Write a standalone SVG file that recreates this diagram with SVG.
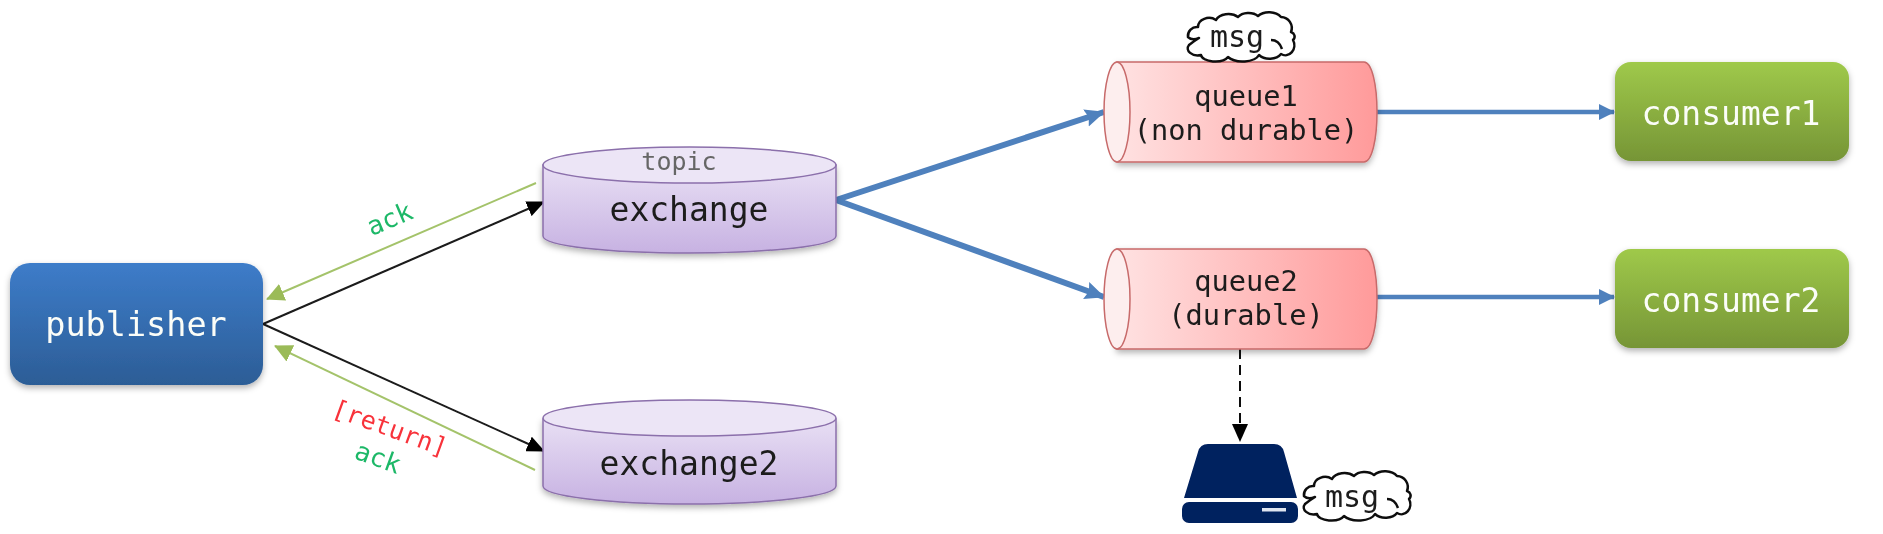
<svg xmlns="http://www.w3.org/2000/svg" xmlns:xlink="http://www.w3.org/1999/xlink" width="1883" height="534" viewBox="0 0 1883 534">
<style>
text{font-family:"DejaVu Sans Mono","Liberation Mono",monospace;text-anchor:middle}
.dark{fill:#1c1c1c}
.white{fill:#fbfdf8}
.cyl{stroke:#8b6fab;stroke-width:1.5}
.q{stroke:#c76a6a;stroke-width:1.5}
.cn{fill:none}
.blue{stroke:#4f81bd;stroke-width:6}
.blue2{stroke:#4f81bd;stroke-width:4.500}
.green{stroke:#a4c36b;stroke-width:2}
.black{stroke:#1a1a1a;stroke-width:2}
.ack{fill:#1fb868;font-size:26px}
</style>
<defs>
<linearGradient id="gP" x1="0" y1="0" x2="0" y2="1"><stop offset="0" stop-color="#3d7cc9"/><stop offset="1" stop-color="#2c5d96"/></linearGradient>
<linearGradient id="gC" x1="0" y1="0" x2="0" y2="1"><stop offset="0" stop-color="#9fc94a"/><stop offset="1" stop-color="#769536"/></linearGradient>
<linearGradient id="gE" x1="0" y1="0" x2="0" y2="1"><stop offset="0" stop-color="#e8dff4"/><stop offset="1" stop-color="#c7b2e2"/></linearGradient>
<linearGradient id="gQ" x1="0" y1="0" x2="1" y2="0"><stop offset="0" stop-color="#ffe2e2"/><stop offset="1" stop-color="#ff9a9a"/></linearGradient>
<filter id="sh" x="-10%" y="-10%" width="120%" height="130%"><feDropShadow dx="0" dy="3" stdDeviation="3" flood-color="#000" flood-opacity=".3"/></filter>
<filter id="soft" filterUnits="userSpaceOnUse" x="0" y="0" width="1883" height="534"><feGaussianBlur stdDeviation="0.75"/></filter>
<marker id="mBlack" markerUnits="userSpaceOnUse" markerWidth="18" markerHeight="16" refX="17" refY="8" orient="auto"><path d="M0 0L18 8L0 16Z" fill="#000"/></marker>
<marker id="mGreen" markerUnits="userSpaceOnUse" markerWidth="18" markerHeight="18" refX="17" refY="9" orient="auto"><path d="M0 0L18 9L0 18Z" fill="#9bbb59"/></marker>
<marker id="mBlue" markerUnits="userSpaceOnUse" markerWidth="20" markerHeight="20" refX="19" refY="10" orient="auto"><path d="M0 1L20 10L0 19L3 10Z" fill="#4f81bd"/></marker>
<marker id="mBlue2" markerUnits="userSpaceOnUse" markerWidth="16" markerHeight="16" refX="15" refY="8" orient="auto"><path d="M0 0L16 8L0 16Z" fill="#4f81bd"/></marker>
<g id="cloud"><path d="M11 14A11 9 0 0 1 29 7A13 9 0 0 1 51 4A12 8 0 0 1 71 3A14 10 0 0 1 94 4A11 11 0 0 1 104 19A6 5 0 0 1 106 27A9 10 0 0 1 94 41A13 9 0 0 1 72 42A17 9 0 0 1 41 44A14 7 0 0 1 14 42A10 7 0 0 1 2 32Q7 28 12 25Q5 28 1 24A9 9 0 0 1 11 14Z" fill="#fff" stroke="#111" stroke-width="2.500" stroke-linejoin="round"/><path d="M84 27Q92 27 95 36" fill="none" stroke="#111" stroke-width="2.500"/></g>
</defs>
<g filter="url(#soft)">
<g id="connectors" class="cn">
<line class="black" x1="263" y1="324" x2="544" y2="202" marker-end="url(#mBlack)"/>
<line class="black" x1="263" y1="324" x2="544" y2="451" marker-end="url(#mBlack)"/>
<line class="green" x1="536" y1="183" x2="267" y2="299" marker-end="url(#mGreen)"/>
<line class="green" x1="535" y1="470" x2="275" y2="346" marker-end="url(#mGreen)"/>
<line class="blue" x1="836" y1="200" x2="1104" y2="112" marker-end="url(#mBlue)"/>
<line class="blue" x1="836" y1="200" x2="1104" y2="297" marker-end="url(#mBlue)"/>
<line class="blue2" x1="1376" y1="112" x2="1614" y2="112" marker-end="url(#mBlue2)"/>
<line class="blue2" x1="1376" y1="297" x2="1614" y2="297" marker-end="url(#mBlue2)"/>
<line stroke="#111" stroke-width="2" stroke-dasharray="10 6" x1="1240" y1="349" x2="1240" y2="441" marker-end="url(#mBlack)"/>
</g>
<g id="publisher"><rect x="10" y="263" width="253" height="122" rx="20" fill="url(#gP)" filter="url(#sh)"/><text class="white" x="136" y="336" font-size="33.500">publisher</text></g>
<g id="exchange"><path class="cyl" d="M543 165V236C543 246 608 253 689 253S836 246 836 236V165Z" fill="url(#gE)" filter="url(#sh)"/><ellipse class="cyl" cx="689.500" cy="165" rx="146.500" ry="18" fill="#ece5f6"/><text x="679" y="170" font-size="25" fill="#666">topic</text><text class="dark" x="689" y="221" font-size="33">exchange</text></g>
<g id="exchange2"><path class="cyl" d="M543 419V486C543 496 608 504 689 504S836 496 836 486V419Z" fill="url(#gE)" filter="url(#sh)"/><ellipse class="cyl" cx="689.500" cy="418" rx="146.500" ry="18" fill="#ece5f6"/><text class="dark" x="689" y="475" font-size="33">exchange2</text></g>
<g id="queue1"><path class="q" d="M1117 62H1364C1372 62 1377 85 1377 112S1372 162 1364 162H1117Z" fill="url(#gQ)" filter="url(#sh)"/><ellipse class="q" cx="1117" cy="112" rx="13" ry="50" fill="#fdeeee"/><text class="dark" x="1246" y="106" font-size="28.700">queue1</text><text class="dark" x="1246" y="140" font-size="28.700">(non durable)</text></g>
<g id="queue2"><path class="q" d="M1117 249H1364C1372 249 1377 272 1377 299S1372 349 1364 349H1117Z" fill="url(#gQ)" filter="url(#sh)"/><ellipse class="q" cx="1117" cy="299" rx="13" ry="50" fill="#fdeeee"/><text class="dark" x="1246" y="291" font-size="28.700">queue2</text><text class="dark" x="1246" y="325" font-size="28.700">(durable)</text></g>
<g id="consumer1"><rect x="1615" y="62" width="234" height="99" rx="16" fill="url(#gC)" filter="url(#sh)"/><text class="white" x="1731" y="125" font-size="33">consumer1</text></g>
<g id="consumer2"><rect x="1615" y="249" width="234" height="99" rx="16" fill="url(#gC)" filter="url(#sh)"/><text class="white" x="1731" y="312" font-size="33">consumer2</text></g>
<g id="msg1"><use href="#cloud" transform="translate(1187 13)"/><text class="dark" x="1237" y="47" font-size="30">msg</text></g>
<g id="disk"><path d="M1208 444H1274Q1282 444 1284 452L1297 498H1184L1198 452Q1200 444 1208 444Z" fill="#00205f"/><rect x="1182" y="502" width="116" height="21" rx="7" fill="#00205f"/><rect x="1262" y="508" width="24" height="3.500" fill="#dfe5f0"/></g>
<g id="msg2"><use href="#cloud" transform="translate(1303 472)"/><text class="dark" x="1352" y="507" font-size="30">msg</text></g>
<text class="ack" transform="translate(393 227) rotate(-23)">ack</text>
<text fill="#f8333a" font-size="25" transform="translate(387 436) rotate(20)">[return]</text>
<text class="ack" transform="translate(375 466) rotate(20)">ack</text>
</g>
</svg>
